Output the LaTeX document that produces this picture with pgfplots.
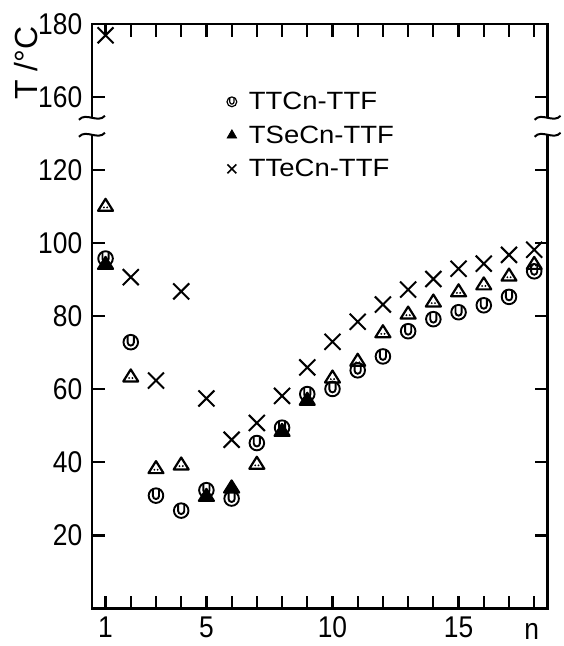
\documentclass[border=0pt]{standalone}
\usepackage{fontspec}
\setmainfont{Liberation Sans}
\newfontfamily\narrowsans{Liberation Sans}[FakeStretch=0.88]
\newfontfamily\widesans{Liberation Sans}[FakeStretch=1.1]
\usepackage{pgfplots}
\pgfplotsset{compat=1.18}

% circle with a U inside (TTCn-TTF)
\pgfdeclareplotmark{ucirc}{%
  \pgfpathcircle{\pgfpointorigin}{\pgfplotmarksize}%
  \pgfusepathqstroke
  \pgfpathmoveto{\pgfqpoint{-0.42\pgfplotmarksize}{0.9\pgfplotmarksize}}%
  \pgfpathlineto{\pgfqpoint{-0.42\pgfplotmarksize}{-0.05\pgfplotmarksize}}%
  \pgfpatharc{180}{360}{0.42\pgfplotmarksize}%
  \pgfpathlineto{\pgfqpoint{0.42\pgfplotmarksize}{0.9\pgfplotmarksize}}%
  \pgfusepathqstroke}
% open triangle with two dots (TSeCn-TTF)
\pgfdeclareplotmark{dtri}{%
  \pgfpathmoveto{\pgfqpoint{0pt}{0.85\pgfplotmarksize}}%
  \pgfpathlineto{\pgfqpoint{-\pgfplotmarksize}{-0.75\pgfplotmarksize}}%
  \pgfpathlineto{\pgfqpoint{\pgfplotmarksize}{-0.75\pgfplotmarksize}}%
  \pgfpathclose
  \pgfusepathqstroke
  \pgfpathcircle{\pgfqpoint{-0.22\pgfplotmarksize}{-0.3\pgfplotmarksize}}{0.14\pgfplotmarksize}%
  \pgfpathcircle{\pgfqpoint{0.22\pgfplotmarksize}{-0.3\pgfplotmarksize}}{0.14\pgfplotmarksize}%
  \pgfusepathqfill}
% filled triangle (where symbols overlap)
\pgfdeclareplotmark{ftri}{%
  \pgfpathmoveto{\pgfqpoint{0pt}{0.85\pgfplotmarksize}}%
  \pgfpathlineto{\pgfqpoint{-\pgfplotmarksize}{-0.75\pgfplotmarksize}}%
  \pgfpathlineto{\pgfqpoint{\pgfplotmarksize}{-0.75\pgfplotmarksize}}%
  \pgfpathclose
  \pgfusepathqfillstroke}
% big cross (TTeCn-TTF)
\pgfdeclareplotmark{bigx}{%
  \pgfpathmoveto{\pgfqpoint{-\pgfplotmarksize}{-\pgfplotmarksize}}%
  \pgfpathlineto{\pgfqpoint{\pgfplotmarksize}{\pgfplotmarksize}}%
  \pgfpathmoveto{\pgfqpoint{-\pgfplotmarksize}{\pgfplotmarksize}}%
  \pgfpathlineto{\pgfqpoint{\pgfplotmarksize}{-\pgfplotmarksize}}%
  \pgfusepathqstroke}

\begin{document}
\begin{tikzpicture}
\begin{axis}[
  scale only axis,
  width=456pt, height=585pt,
  xmin=0.46, xmax=18.53,
  ymin=0, ymax=160,
  axis line style={line width=2.6pt},
  tick style={black, line width=2.2pt},
  major tick length=13pt,
  tick align=inside,
  xtick={1,...,18},
  xticklabels={1,,,,5,,,,,10,,,,,15,,,},
  % values above the break are plotted 20 lower (160 -> 140, 180 -> 160)
  ytick={20,40,60,80,100,120,140,160},
  yticklabels={20,40,60,80,100,120,160,180},
  ticklabel style={font=\narrowsans\fontsize{30}{36}\selectfont, inner sep=0pt},
  xticklabel shift=8pt,
  yticklabel shift=9.5pt,
  clip=false,
  legend style={draw=none, fill=none, inner sep=0pt,
    at={(rel axis cs:0.2947,0.8868)}, anchor=north west,
    font=\widesans\fontsize{25}{30}\selectfont,
    column sep=9.5pt, row sep=10.6pt,
    nodes={inner sep=2pt}},
  legend cell align=left,
]
\coordinate (blc) at (rel axis cs:0,0);
\coordinate (trc) at (rel axis cs:1,1);
\coordinate (brL) at (axis cs:0.46,132);
\coordinate (brR) at (axis cs:18.53,132);

\addlegendimage{legend image code/.code={\path[draw=none,fill=none] (-5.5pt,-5.5pt) rectangle (5.5pt,5.5pt);
  \draw[black,line width=1.2pt,mark=ucirc,mark size=4.9pt] plot coordinates {(0pt,0pt)};}}
\addlegendentry{TTCn-TTF}
\addlegendimage{legend image code/.code={\path[draw=none,fill=none] (-5.5pt,-5.5pt) rectangle (5.5pt,5.5pt);
  \draw[black,fill=black,line width=0.8pt,mark=triangle*,mark size=5.5pt] plot coordinates {(0pt,0pt)};}}
\addlegendentry{TSeCn-TTF}
\addlegendimage{legend image code/.code={\path[draw=none,fill=none] (-5.5pt,-5.5pt) rectangle (5.5pt,5.5pt);
  \draw[black,line width=1.5pt,mark=bigx,mark size=4.4pt] plot coordinates {(0pt,0pt)};}}
\addlegendentry{TTeCn-TTF}

% TSeCn-TTF, open triangles
\addplot[only marks, mark=dtri, mark size=7.5pt, line width=2.2pt, line join=round, forget plot]
  coordinates {(1,110.4) (2,63.7) (3,38.6) (4,39.6) (7,39.8) (10,63.4) (11,68.0)
  (12,75.8) (13,80.9) (14,84.2) (15,87.0) (16,88.9) (17,91.3) (18,94.5)};
% TSeCn-TTF, points hidden under circles
\addplot[only marks, mark=ftri, mark size=7.5pt, line width=2.2pt, line join=round, forget plot]
  coordinates {(1,94.5) (5,31.0) (6,33.3) (8,48.8) (9,57.3)};
% TTCn-TTF
\addplot[only marks, mark=ucirc, mark size=7.3pt, line width=1.9pt, forget plot]
  coordinates {(1,95.8) (2,72.9) (3,30.9) (4,26.8) (5,32.4) (6,30.1) (7,45.3)
  (8,49.5) (9,58.7) (10,60.1) (11,65.2) (12,69.0) (13,75.9) (14,79.2) (15,81.1)
  (16,83.0) (17,85.3) (18,92.3)};
% TTeCn-TTF (n=1: 176.9 -> 156.9 above the break)
\addplot[only marks, mark=bigx, mark size=8pt, line width=2pt, forget plot]
  coordinates {(1,156.9) (2,90.7) (3,62.4) (4,86.8) (5,57.5) (6,46.2) (7,50.8)
  (8,58.2) (9,66.0) (10,73.0) (11,78.5) (12,83.2) (13,87.3) (14,90.2) (15,93.0)
  (16,94.4) (17,96.8) (18,98.2)};

\node[rotate=90, inner sep=0pt, font=\fontsize{32}{38}\selectfont] at ([xshift=-66pt]axis cs:0.46,149.3) {T /°C};
\node[anchor=base, inner sep=0pt, font=\narrowsans\fontsize{30}{36}\selectfont] at ([yshift=-30.5pt]axis cs:17.9,0) {n};
\end{axis}

% axis breaks
\foreach \c in {brL,brR}{
  \fill[white] ([xshift=-4pt,yshift=-8pt]\c) rectangle ([xshift=4pt,yshift=8pt]\c);
  \draw[line width=2pt] ([xshift=-13pt,yshift=6.5pt]\c) .. controls +(7pt,8pt) and +(-7pt,-8pt) .. ([xshift=13pt,yshift=10.5pt]\c);
  \draw[line width=2pt] ([xshift=-13pt,yshift=-10.5pt]\c) .. controls +(7pt,8pt) and +(-7pt,-8pt) .. ([xshift=13pt,yshift=-6.5pt]\c);
}

\pgfresetboundingbox
\path[use as bounding box] ([xshift=-92pt,yshift=-37.5pt]blc) rectangle ([xshift=15.5pt,yshift=24pt]trc);
\end{tikzpicture}
\end{document}
